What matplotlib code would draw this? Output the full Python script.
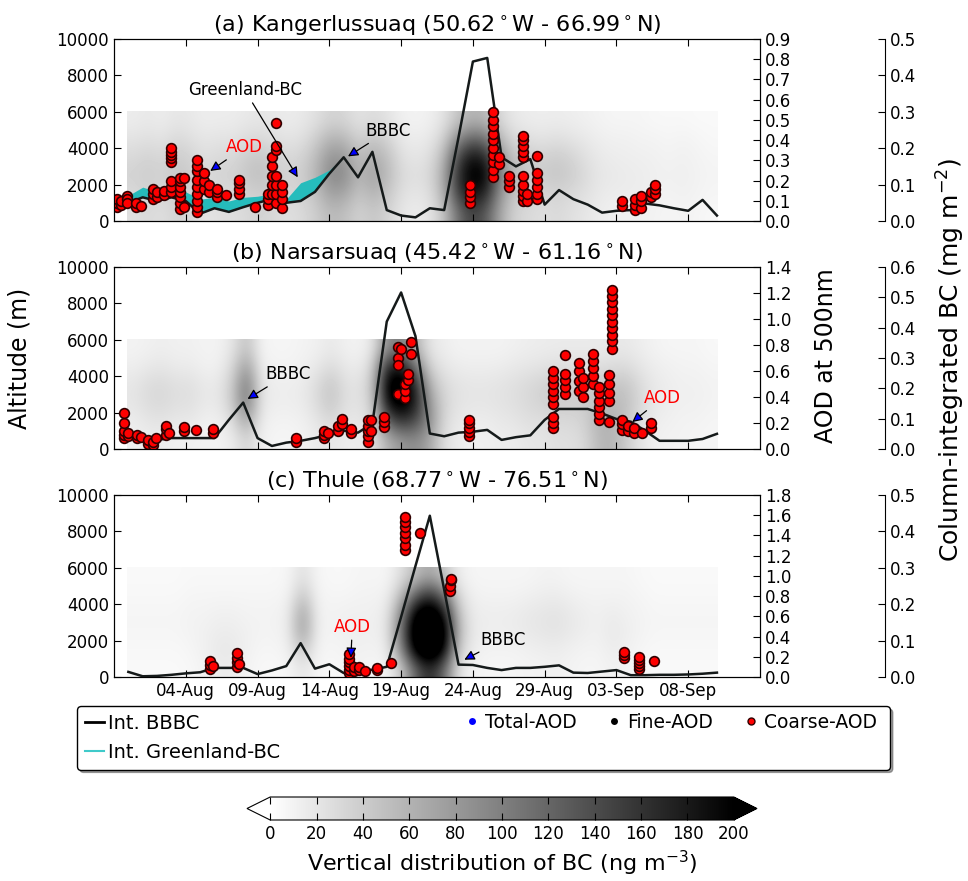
import numpy as np
import matplotlib
matplotlib.use('Agg')
import matplotlib.pyplot as plt
import matplotlib.dates as mdates
from matplotlib.lines import Line2D
from matplotlib.cm import ScalarMappable
from matplotlib.colors import Normalize
from datetime import datetime

plt.rcParams['xtick.direction'] = 'in'
plt.rcParams['ytick.direction'] = 'in'
plt.rcParams['xtick.major.size'] = 5
plt.rcParams['ytick.major.size'] = 5
plt.rcParams['font.size'] = 12

# ---------------- data ----------------
start = mdates.date2num(datetime(2014, 7, 30))
days = np.arange(1, 43)                      # 31-Jul ... 10-Sep
alt_levels = [500, 1500, 2500, 3500, 4500, 5500]

titles = ['(a) Kangerlussuaq (50.62$^\\circ$W - 66.99$^\\circ$N)',
          '(b) Narsarsuaq (45.42$^\\circ$W - 61.16$^\\circ$N)',
          '(c) Thule (68.77$^\\circ$W - 76.51$^\\circ$N)']

# vertical distribution of BC (ng m-3), rows = alt_levels, cols = days
bc_a = [
    [25,30,25,35,30,20,25,25,30,35,30,25,30,40,55,50,35,45,35,20,15,20,45,110,150,130,70,35,30,25,30,25,20,15,12,12,12,10,8,10,8,6],
    [30,35,30,40,35,25,30,30,35,40,35,30,35,50,75,70,45,60,45,25,20,25,60,150,190,170,85,45,35,30,35,30,25,18,15,15,14,12,10,12,10,8],
    [35,40,35,45,40,30,35,35,45,50,40,35,40,60,95,90,55,75,55,30,25,30,65,160,210,200,100,55,45,40,45,40,30,20,18,16,15,13,12,13,11,9],
    [30,35,30,40,35,25,30,30,40,45,35,30,35,55,85,80,50,65,50,25,20,25,55,140,190,170,85,45,40,35,40,35,25,18,15,14,13,12,10,12,10,8],
    [22,25,22,30,25,20,22,22,28,30,25,22,25,40,60,55,35,45,35,18,15,18,35,90,120,110,55,30,25,22,25,22,18,14,12,12,10,10,8,10,8,6],
    [15,18,15,20,18,14,15,15,18,20,18,15,18,25,35,32,22,28,22,12,10,12,22,45,60,55,30,18,15,14,15,14,12,10,8,8,8,6,6,6,5,5]]
bc_b = [
    [12,15,15,12,12,10,10,15,35,12,8,8,10,15,20,15,15,20,60,80,90,70,25,15,12,12,15,15,20,20,25,25,30,55,60,40,20,12,10,10,8,8],
    [15,20,22,18,18,12,12,25,70,15,10,10,12,20,30,20,18,30,120,160,140,90,30,18,15,15,18,20,25,25,30,30,35,60,60,45,25,14,12,10,10,8],
    [20,28,30,25,25,18,18,40,110,20,14,14,16,28,45,25,22,40,190,220,180,80,35,22,20,20,22,25,30,35,40,38,40,50,55,50,30,18,14,12,12,10],
    [20,28,30,25,25,18,18,40,110,20,14,14,16,28,45,25,22,45,210,230,170,60,30,22,20,20,22,25,30,35,40,38,38,42,45,45,28,18,14,12,12,10],
    [14,18,20,16,16,12,12,30,80,14,10,10,12,18,28,18,15,35,170,180,110,35,20,15,14,14,15,18,20,22,25,25,25,25,28,28,20,14,12,10,10,8],
    [10,12,14,12,12,10,10,20,50,10,8,8,10,12,18,12,10,20,90,100,60,20,14,10,10,10,10,12,14,15,16,16,16,16,18,18,14,10,8,8,8,6]]
bc_c = [
    [5,5,5,5,6,10,15,15,10,6,6,8,20,8,6,8,10,8,10,40,120,170,120,25,10,8,8,8,10,10,12,10,8,8,12,10,6,5,5,5,5,5],
    [6,6,6,6,8,12,18,18,12,8,8,12,45,10,8,10,12,10,15,90,220,255,210,45,15,10,10,10,12,14,15,12,10,10,15,12,8,6,6,6,6,6],
    [8,8,8,8,10,12,15,15,12,10,10,15,80,12,10,12,14,12,20,110,240,260,230,60,18,14,14,15,18,20,22,18,14,12,18,14,10,8,8,8,8,8],
    [8,8,8,8,10,10,12,12,10,10,10,15,75,12,10,12,12,12,18,90,210,240,190,50,16,14,14,15,18,20,22,18,14,12,15,12,10,8,8,8,8,8],
    [6,6,6,6,8,8,8,8,8,8,8,10,45,10,8,8,10,10,12,50,120,160,110,30,12,10,10,10,12,14,15,12,10,10,10,10,8,6,6,6,6,6],
    [5,5,5,5,6,6,6,6,6,6,6,8,25,8,6,6,8,8,8,25,50,70,45,15,8,8,8,8,8,10,10,8,8,8,8,8,6,5,5,5,5,5]]

# column-integrated BBBC (mg m-2)
bbbc_a = [0.050,0.065,0.055,0.065,0.055,0.020,0.035,0.025,0.038,0.050,0.060,0.050,0.055,0.080,0.130,0.175,
          0.120,0.190,0.030,0.015,0.010,0.035,0.030,0.230,0.438,0.448,0.175,0.150,0.170,0.045,0.085,0.060,
          0.045,0.023,0.028,0.030,0.048,0.043,0.035,0.028,0.058,0.015]
bbbc_b = [0.042,0.036,0.030,0.036,0.036,0.036,0.036,0.096,0.153,0.036,0.010,0.021,0.027,0.036,0.048,0.060,
          0.054,0.084,0.420,0.516,0.372,0.051,0.042,0.054,0.057,0.063,0.030,0.039,0.045,0.096,0.132,0.132,
          0.132,0.117,0.099,0.090,0.060,0.027,0.027,0.027,0.033,0.050]
bbbc_c = [0.014,0.002,0.003,0.006,0.010,0.013,0.025,0.025,0.025,0.008,0.018,0.030,0.093,0.023,0.035,0.011,
          0.018,0.020,0.028,0.165,0.305,0.443,0.240,0.034,0.033,0.025,0.019,0.025,0.025,0.028,0.032,0.012,
          0.011,0.015,0.019,0.005,0.005,0.006,0.006,0.007,0.009,0.012]
# BBBC + Greenland-BC at Kangerlussuaq, first 16 days
greenland_a = [0.070,0.093,0.080,0.090,0.080,0.060,0.065,0.055,0.065,0.068,0.075,0.060,0.105,0.120,0.140,0.175]

# AOD at 500 nm: (day, values)
aod_a = [(0.2,[0.07,0.09,0.11]), (0.5,[0.08,0.10]), (0.9,[0.125,0.11,0.09]), (1.5,[0.07,0.09]), (1.9,[0.075]),
         (2.7,[0.11,0.135,0.16]), (3.0,[0.12,0.145]), (3.5,[0.13,0.15]),
         (4.0,[0.29,0.31,0.325,0.34,0.36,0.145,0.17,0.2]), (4.6,[0.06,0.09,0.12,0.145,0.17,0.2,0.215]),
         (4.9,[0.07,0.215]), (5.8,[0.045,0.07,0.1,0.135,0.17,0.205,0.245,0.27,0.3]), (6.3,[0.16,0.2,0.235]),
         (6.6,[0.145,0.18]), (7.2,[0.12,0.145,0.16]), (7.8,[0.13]), (8.7,[0.135,0.16,0.19,0.205]), (9.8,[0.07]),
         (10.7,[0.08,0.11,0.135]), (11.0,[0.135,0.18,0.225,0.27,0.315]),
         (11.3,[0.35,0.37,0.485,0.09,0.135,0.18,0.225]), (11.7,[0.065,0.11,0.145,0.18]),
         (24.8,[0.09,0.12,0.145,0.18]), (26.4,[0.22,0.25,0.29,0.325,0.36,0.4,0.43,0.47,0.5,0.54]),
         (26.8,[0.28,0.315]), (27.5,[0.17,0.2,0.225]),
         (28.5,[0.315,0.34,0.37,0.4,0.42,0.1,0.125,0.15,0.18,0.225]), (28.8,[0.1,0.135]),
         (29.5,[0.32,0.11,0.135,0.17,0.205,0.235]), (35.4,[0.075,0.1]), (36.3,[0.055,0.08,0.11]),
         (36.7,[0.065,0.1,0.125]), (37.4,[0.12,0.145]), (37.7,[0.135,0.16,0.18])]
aod_b = [(0.7,[0.085,0.11,0.14,0.2,0.28]), (1.0,[0.1,0.125]), (1.6,[0.085,0.11]), (1.9,[0.09]),
         (2.4,[0.04,0.07]), (2.7,[0.03,0.055]), (2.9,[0.085]), (3.6,[0.11,0.155,0.18]), (3.8,[0.12]),
         (4.9,[0.14,0.17]), (5.7,[0.15]), (6.9,[0.125,0.155]), (12.7,[0.055,0.085]),
         (14.6,[0.085,0.11,0.14]), (14.9,[0.125]), (15.6,[0.14,0.18]), (15.9,[0.195,0.23]),
         (16.5,[0.125,0.155]), (17.7,[0.055,0.1,0.14,0.18,0.225]), (17.9,[0.14,0.225]),
         (18.8,[0.17,0.21,0.25]), (19.8,[0.785,0.7,0.645,0.42]), (20.0,[0.77]), (20.3,[0.39,0.45,0.5]),
         (20.5,[0.53,0.575]), (20.7,[0.825,0.73]), (24.7,[0.1,0.13,0.16,0.2,0.22]),
         (30.6,[0.35,0.4,0.45,0.5,0.55,0.6,0.16,0.2,0.25]), (31.4,[0.72,0.42,0.48,0.53,0.58]),
         (32.4,[0.45,0.52,0.6,0.66]), (32.7,[0.4,0.48,0.55]), (33.4,[0.5,0.56,0.62,0.68,0.73]),
         (33.8,[0.22,0.27,0.32,0.37,0.43,0.48]), (34.5,[0.37,0.43,0.5,0.57,0.21]),
         (34.7,[0.77,0.83,0.88,0.93,0.98,1.03,1.08,1.13,1.18,1.22]), (35.4,[0.15,0.19,0.22]),
         (35.8,[0.14,0.18]), (36.2,[0.12,0.16]), (36.8,[0.12]), (37.4,[0.16,0.2])]
aod_c = [(6.7,[0.08,0.12,0.16]), (6.9,[0.11]), (8.6,[0.1,0.145,0.19,0.235]), (8.7,[0.125]),
         (16.4,[0.035,0.07,0.11,0.145,0.18,0.225]), (16.7,[0.055,0.1]), (17.1,[0.065,0.1]), (17.5,[0.055]),
         (18.3,[0.065,0.09]), (19.3,[0.135]), (20.3,[1.26,1.31,1.37,1.42,1.48,1.53,1.58]), (21.3,[1.42]),
         (23.4,[0.85,0.9]), (23.5,[0.955,0.97]), (35.5,[0.19,0.22,0.25]),
         (36.6,[0.08,0.11,0.14,0.17,0.2]), (37.6,[0.16])]

aod_max = [0.9, 1.4, 1.8]
aod_step = [0.1, 0.2, 0.2]
bcint_max = [0.5, 0.6, 0.5]

# annotations: (text, color, text pos (day, m), arrow head (day, m))
notes = [
    [('Greenland-BC', 'black', (9.1, 7200), (12.8, 2400)),
     ('AOD', 'red', (9.1, 4050), (6.7, 2750)),
     ('BBBC', 'black', (19.1, 4950), (16.3, 3550))],
    [('BBBC', 'black', (12.1, 4100), (9.3, 2750)),
     ('AOD', 'red', (38.2, 2800), (36.1, 1480))],
    [('AOD', 'red', (16.6, 2750), (16.5, 1050)),
     ('BBBC', 'black', (27.1, 2050), (24.4, 950))]]

# ---------------- plot ----------------
W, H = 968, 881
fig = plt.figure(figsize=(W / 100, H / 100), dpi=100)
cmap = plt.get_cmap('gray_r').copy()
cmap.set_under('white')
cmap.set_over('black')

panel_tops = [39, 267, 495]
panel_h = 182
grids = [bc_a, bc_b, bc_c]
bbbcs = [bbbc_a, bbbc_b, bbbc_c]
aods = [aod_a, aod_b, aod_c]

for i in range(3):
    ax = fig.add_axes([114 / W, 1 - (panel_tops[i] + panel_h) / H, 646 / W, panel_h / H])
    ax.imshow(np.array(grids[i]), extent=[start + 0.9, start + 42, 0, 6000], origin='lower',
              aspect='auto', cmap=cmap, vmin=0, vmax=200, interpolation='bicubic')
    ax.set_xlim(start, start + 45)
    ax.set_ylim(0, 10000)
    ax.set_yticks(range(0, 10001, 2000))
    ax.set_xticks(start + np.arange(5, 41, 5))
    ax.xaxis.set_major_formatter(mdates.DateFormatter('%d-%b'))
    ax.tick_params(top=True, labelsize=12)
    if i < 2:
        ax.tick_params(labelbottom=False)
    ax.set_title(titles[i], fontsize=16, pad=5)

    # third axis: column-integrated BC
    bc = ax.twinx()
    bc.spines['right'].set_position(('outward', 90))
    for s in ['top', 'left', 'bottom']:
        bc.spines[s].set_visible(False)
    bc.set_ylim(0, bcint_max[i])
    bc.set_yticks(np.arange(0, bcint_max[i] + 0.01, 0.1))
    bc.yaxis.set_major_formatter(plt.FormatStrFormatter('%.1f'))
    bc.tick_params(labelsize=12)
    if i == 0:
        bc.fill_between(start + days[:16], bbbcs[i][:16], greenland_a, color='#26bcbc', lw=0)
    bc.plot(start + days, bbbcs[i], color='#151a1a', lw=1.8)

    # AOD axis
    ao = ax.twinx()
    ao.set_ylim(0, aod_max[i])
    ao.set_yticks(np.arange(0, aod_max[i] + 0.001, aod_step[i]))
    ao.yaxis.set_major_formatter(plt.FormatStrFormatter('%.1f'))
    ao.tick_params(labelsize=12)
    xs, ys = [], []
    for d, vals in aods[i]:
        xs += [d] * len(vals)
        ys += vals
    xs = start + np.array(xs)
    ao.plot(xs, ys, 'o', ms=6, mfc='blue', mec='none')
    ao.plot(xs, ys, 'o', ms=6, mfc='black', mec='none')
    ao.plot(xs, ys, 'o', ms=7, mfc='red', mec='#300000', mew=1.2)

    for txt, col, tpos, hpos in notes[i]:
        ao.annotate(txt, xy=(start + hpos[0], hpos[1]), xycoords=ax.transData,
                    xytext=(start + tpos[0], tpos[1]), textcoords=ax.transData,
                    ha='center', va='center', color=col, fontsize=12,
                    arrowprops=dict(arrowstyle='-|>,head_length=0.5,head_width=0.25',
                                    fc='blue', ec='black', lw=0.9, shrinkA=1, shrinkB=0))

fig.text(20 / W, 1 - 358 / H, 'Altitude (m)', rotation=90, ha='center', va='center', fontsize=17)
fig.text(826 / W, 1 - 356 / H, 'AOD at 500nm', rotation=90, ha='center', va='center', fontsize=17)
fig.text(951 / W, 1 - 360 / H, 'Column-integrated BC (mg m$^{-2}$)', rotation=90,
         ha='center', va='center', fontsize=18)

# legend: framed box with the line entries, marker entries laid on its first row
line_handles = [Line2D([], [], color='black', lw=2),
                Line2D([], [], color='#3fcaca', lw=1.5)]
line_labels = ['Int. BBBC', 'Int. Greenland-BC']
mark_handles = [Line2D([], [], ls='', marker='o', ms=5, mfc='blue', mec='none'),
                Line2D([], [], ls='', marker='o', ms=5, mfc='black', mec='none'),
                Line2D([], [], ls='', marker='o', ms=5, mfc='red', mec='#300000')]
mark_labels = ['Total-AOD', 'Fine-AOD', 'Coarse-AOD']
fig.legend(line_handles, line_labels, loc='center', ncol=1, mode='expand',
           bbox_to_anchor=(77 / W, 1 - 771 / H, 813 / W, 66 / H), fontsize=14,
           handlelength=1.0, handletextpad=0.2, shadow=True, fancybox=True,
           borderaxespad=0, framealpha=1, edgecolor='black')
fig.legend(mark_handles, mark_labels, loc='center left', ncol=3, frameon=False,
           bbox_to_anchor=(455 / W, 1 - 722 / H), fontsize=13.5, columnspacing=1.5,
           handlelength=1.0, handletextpad=0.2, borderaxespad=0, numpoints=1)

# colorbar
cax = fig.add_axes([247 / W, 1 - 820 / H, 510 / W, 23 / H])
sm = ScalarMappable(norm=Normalize(0, 200), cmap=cmap)
cb = fig.colorbar(sm, cax=cax, orientation='horizontal', extend='both', ticks=range(0, 201, 20))
cb.set_label('Vertical distribution of BC (ng m$^{-3}$)', fontsize=16)
cax.tick_params(direction='in', top=True, bottom=True, labelsize=12, length=5)

fig.savefig('out.png', dpi=100)
